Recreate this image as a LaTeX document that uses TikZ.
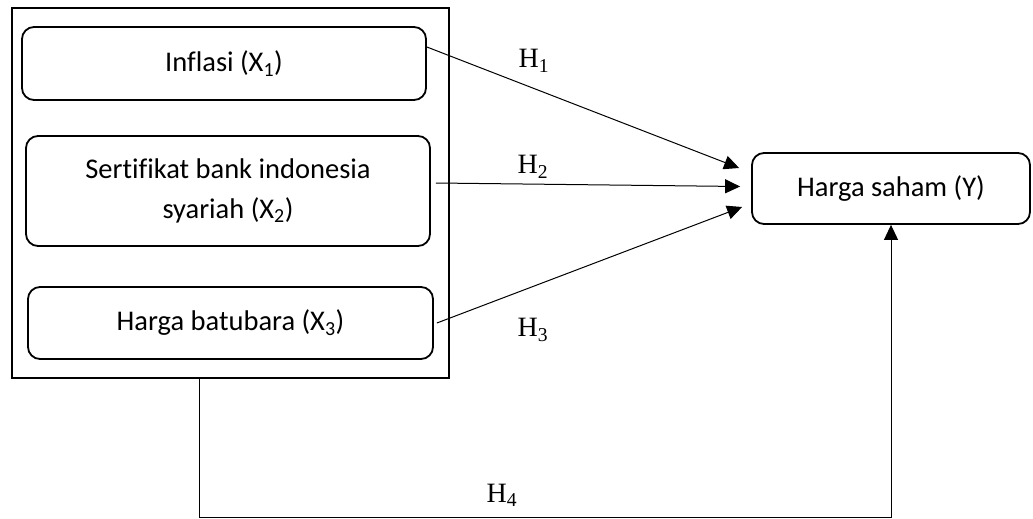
\documentclass[tikz,border=0pt]{standalone}
\usepackage{fontspec}
\setmainfont[RawFeature={-liga}]{Carlito}
\newfontfamily\timesf{Liberation Serif}
\usetikzlibrary{arrows.meta,calc}
\tikzset{
  outerbox/.style={draw, line width=2pt, inner sep=0pt},
  varbox/.style={draw, line width=1.8pt, rounded corners=12pt, inner sep=0pt, align=center,
    font=\fontsize{28.5}{40}\selectfont},
  conn/.style={line width=1pt, -{Triangle[length=15pt,width=14pt]}},
  hlabel/.style={font=\timesf\fontsize{28}{30}\selectfont, inner sep=0pt}
}
\begin{document}
\begin{tikzpicture}[x=1pt,y=-1pt]
\useasboundingbox (0,0) rectangle (1033,519);
\node[outerbox, minimum width=437pt, minimum height=370pt] (outer) at (230.5,193) {};
\node[varbox, minimum width=404pt, minimum height=73pt] (b1) at (224,63.5) {Inflasi (X\textsubscript{1})};
\node[varbox, minimum width=404pt, minimum height=110pt] (b2) at (228,191) {Sertifikat bank indonesia\\syariah (X\textsubscript{2})};
\node[varbox, minimum width=405pt, minimum height=72pt] (b3) at (230.5,323) {Harga batubara (X\textsubscript{3})};
\node[varbox, minimum width=278pt, minimum height=71pt] (ys) at (891,188.5) {Harga saham (Y)};

\draw[conn] ($(b1.east)+(0,-16.5)$) -- ($(ys.west)+(-12,-20.5)$);
\draw[conn] ($(b2.east)+(5,-8)$) -- ($(ys.west)+(-11,-2)$);
\draw[conn] ($(b3.east)+(3,0)$) -- ($(ys.west)+(-9,18.5)$);

\coordinate (turn) at (199,517);
\draw[conn] (outer.south -| turn) -- (turn) -| (ys.south);

\node[hlabel] (h1) at (534,61) {H\textsubscript{1}};
\node[hlabel] (h2) at (533,167) {H\textsubscript{2}};
\node[hlabel] (h3) at (533,330) {H\textsubscript{3}};
\node[hlabel] (h4) at (502,495) {H\textsubscript{4}};
\end{tikzpicture}
\end{document}
